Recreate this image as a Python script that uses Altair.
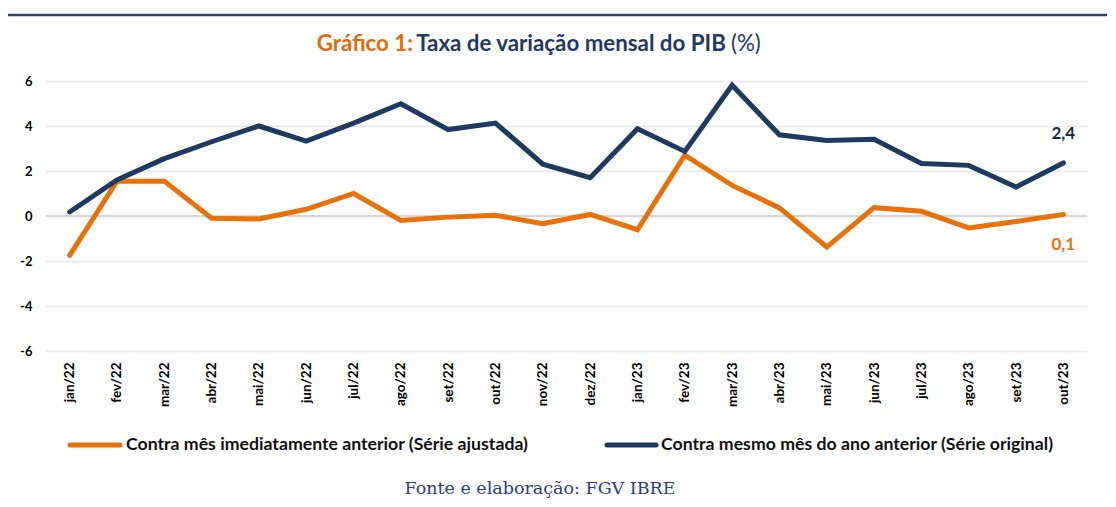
import altair as alt
import pandas as pd

months = ["jan/22", "fev/22", "mar/22", "abr/22", "mai/22", "jun/22", "jul/22", "ago/22",
          "set/22", "out/22", "nov/22", "dez/22", "jan/23", "fev/23", "mar/23", "abr/23",
          "mai/23", "jun/23", "jul/23", "ago/23", "set/23", "out/23"]
mom = [-1.75, 1.55, 1.55, -0.1, -0.13, 0.3, 1.0, -0.2, -0.05, 0.03, -0.34, 0.07,
       -0.61, 2.7, 1.36, 0.36, -1.38, 0.37, 0.21, -0.53, -0.24, 0.07]
yoy = [0.18, 1.6, 2.55, 3.3, 4.0, 3.33, 4.13, 4.99, 3.84, 4.13, 2.3, 1.7,
       3.88, 2.87, 5.81, 3.61, 3.36, 3.41, 2.33, 2.25, 1.29, 2.36]
series_names = ["Contra mês imediatamente anterior (Série ajustada)",
                "Contra mesmo mês do ano anterior (Série original)"]
end_labels = ["0,1", "2,4"]

ORANGE = "#E8710A"
NAVY = "#1E3A62"
FONT = "Lato"

rows = []
for m, a, b in zip(months, mom, yoy):
    rows.append({"mes": m, "valor": a, "serie": series_names[0]})
    rows.append({"mes": m, "valor": b, "serie": series_names[1]})
df = pd.DataFrame(rows)

x_enc = alt.X("mes:O", sort=months, scale=alt.Scale(padding=0.5),
              axis=alt.Axis(title=None, labelAngle=270, labelPadding=11, grid=False,
                            domain=False, ticks=False, labelFontWeight="bold",
                            labelFontSize=13.5, labelColor="#000000", labelFont=FONT))
y_enc = alt.Y("valor:Q", scale=alt.Scale(domain=[-6, 6], nice=False, zero=False),
              axis=alt.Axis(title=None, values=[-6, -4, -2, 0, 2, 4, 6], domain=False,
                            ticks=False, labelPadding=14, labelFontWeight="bold",
                            labelFontSize=13, labelColor="#000000", labelFont=FONT,
                            labelExpr="datum.value + ''",
                            gridColor="#e8e8e8", gridWidth=1.5))

zero = alt.Chart(pd.DataFrame({"z": [0]})).mark_rule(color="#d6d6d6", strokeWidth=2).encode(
    y=alt.Y("z:Q", scale=alt.Scale(domain=[-6, 6], nice=False)))

lines = alt.Chart(df).mark_line(strokeWidth=5, strokeCap="round", strokeJoin="miter").encode(
    x=x_enc, y=y_enc,
    color=alt.Color("serie:N", scale=alt.Scale(domain=series_names, range=[ORANGE, NAVY]),
                    legend=None),
    detail="serie:N")

lab_orange = alt.Chart(pd.DataFrame({"mes": [months[-1]], "valor": [mom[-1]], "t": [end_labels[0]]})).mark_text(
    font=FONT, fontSize=17, fontWeight="bold", color=ORANGE, dy=31).encode(
    x=alt.X("mes:O", sort=months), y="valor:Q", text="t:N")
lab_navy = alt.Chart(pd.DataFrame({"mes": [months[-1]], "valor": [yoy[-1]], "t": [end_labels[1]]})).mark_text(
    font=FONT, fontSize=17, fontWeight="bold", color="#1a2740", dy=-29).encode(
    x=alt.X("mes:O", sort=months), y="valor:Q", text="t:N")

one = pd.DataFrame({"a": [0]})

def txt(text, x, y, color, size, weight="bold", align="left", font=FONT):
    return alt.Chart(one).mark_text(text=text, align=align, baseline="middle", font=font,
                                    fontSize=size, fontWeight=weight, color=color).encode(
        x=alt.value(x), y=alt.value(y))

def rule(x1, x2, y, color, w, cap="butt"):
    return alt.Chart(one).mark_rule(color=color, strokeWidth=w, strokeCap=cap).encode(
        x=alt.value(x1), x2=alt.value(x2), y=alt.value(y))

top_line = rule(-43, 1070, -66, "#2E4374", 2.5)
title1 = txt("Gráfico 1:", 367, -37, "#E36C0A", 22.3, align="right")
title2 = txt("Taxa de variação mensal do PIB", 525, -37, "#1F3864", 22.3, align="center")
title3 = txt("(%)", 685, -37, "#1F3864", 22.3, weight="normal")

leg1 = rule(24, 74, 364, ORANGE, 5, cap="round")
leg1t = txt(series_names[0], 80, 364, "#111111", 17.7)
leg2 = rule(561, 610, 364, NAVY, 5, cap="round")
leg2t = txt(series_names[1], 615, 364, "#111111", 17.7)

footer = txt("Fonte e elaboração: FGV IBRE", 494, 408, "#2E3C7E", 17.5, weight="normal",
             align="center", font="DejaVu Serif")

chart = alt.layer(zero, lines, lab_orange, lab_navy, top_line, title1, title2, title3,
                  leg1, leg1t, leg2, leg2t, footer).properties(
    width=1041, height=270,
    autosize=alt.AutoSizeParams(type="none"),
    padding={"left": 38, "top": 73, "right": 20, "bottom": 148},
    background="#ffffff",
).configure_view(stroke=None)

chart.save("out.html", embed_options={"renderer": "svg", "actions": False})
